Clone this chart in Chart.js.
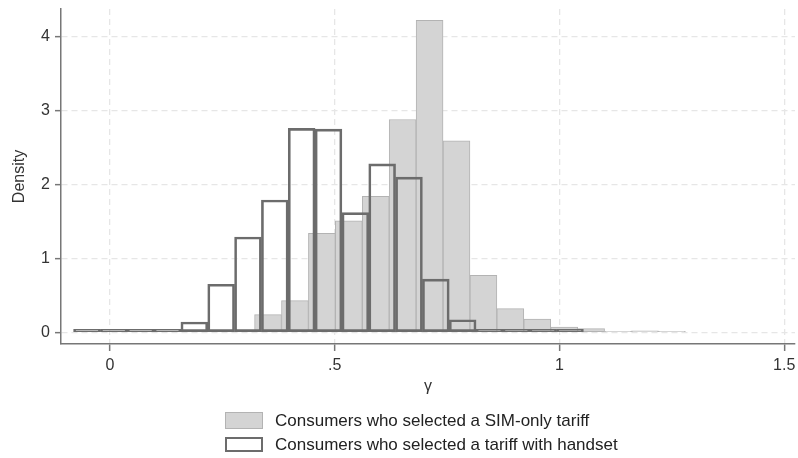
<!DOCTYPE html>
<html>
<head>
<meta charset="utf-8">
<script src="https://cdn.jsdelivr.net/npm/chart.js@4/dist/chart.umd.min.js"></script>
<style>
  html, body { margin: 0; padding: 0; background: #ffffff; }
  #wrap { width: 798px; height: 458px; }
</style>
</head>
<body>
<div id="wrap"><canvas id="chart" width="798" height="458"></canvas></div>
<script>
// Histogram bin centres (gamma) and densities
const simOnlyBins = [0.3516, 0.4115, 0.4714, 0.5313, 0.5912, 0.6511, 0.7110, 0.7709,
                     0.8308, 0.8907, 0.9506, 1.0105, 1.0704, 1.1303, 1.1902, 1.2501];
const simOnlyDensity = [0.24, 0.43, 1.34, 1.51, 1.84, 2.88, 4.22, 2.59,
                        0.77, 0.32, 0.18, 0.07, 0.05, 0.01, 0.02, 0.01];

const handsetBins = [-0.0512, 0.0085, 0.0682, 0.1279, 0.1876, 0.2473, 0.3070, 0.3667,
                     0.4264, 0.4861, 0.5458, 0.6055, 0.6652, 0.7249, 0.7846, 0.8443,
                     0.9040, 0.9637, 1.0234];
const handsetDensity = [0.01, 0.01, 0.005, 0.03, 0.14, 0.65, 1.29, 1.79,
                        2.76, 2.75, 1.62, 2.28, 2.10, 0.72, 0.17, 0.03,
                        0.005, 0.02, 0.02];

const xTickValues = [0, 0.5, 1, 1.5];
const xTickLabels = ["0", ".5", "1", "1.5"];
const yTickValues = [0, 1, 2, 3, 4];

const seriesLabels = [
  "Consumers who selected a SIM-only tariff",
  "Consumers who selected a tariff with handset"
];

const FONT = "'Liberation Sans', Arial, Helvetica, sans-serif";
const AXIS = '#777777';
const GRID = '#e6e6e6';
const TEXT = '#333333';
const SIM_FILL = '#d4d4d4';
const SIM_EDGE = '#b3b3b3';
const HS_EDGE = '#6c6c6c';

Chart.defaults.font.family = FONT;

const X_MIN = -0.109, X_MAX = 1.524;

// Legend stacked in two rows below the plot
const stackedLegend = {
  id: 'stackedLegend',
  afterDraw(chart) {
    const ctx = chart.ctx;
    const ds = chart.data.datasets;
    const left = 225, boxW = 38, textX = 275;
    const rows = [
      { y: 412, h: 17, ds: ds[0] },
      { y: 437, h: 15, ds: ds[1] }
    ];
    ctx.save();
    rows.forEach(r => {
      const lw = r.ds.borderWidth;
      ctx.fillStyle = r.ds.legendFill;
      ctx.fillRect(left, r.y, boxW, r.h);
      ctx.lineWidth = lw;
      ctx.strokeStyle = r.ds.borderColor;
      ctx.strokeRect(left + lw / 2, r.y + lw / 2, boxW - lw, r.h - lw);
      ctx.fillStyle = '#222222';
      ctx.font = '17px ' + FONT;
      ctx.textBaseline = 'middle';
      ctx.textAlign = 'left';
      ctx.fillText(r.ds.label, textX, r.y + r.h / 2 + 0.5);
    });
    ctx.restore();
  }
};

const xAxisBase = {
  type: 'linear',
  min: X_MIN,
  max: X_MAX,
  offset: false,
  afterBuildTicks: s => { s.ticks = xTickValues.map(v => ({ value: v })); }
};

new Chart(document.getElementById('chart'), {
  type: 'bar',
  data: {
    datasets: [
      {
        label: seriesLabels[0],
        data: simOnlyBins.map((x, i) => ({ x: x, y: simOnlyDensity[i] })),
        xAxisID: 'x',
        backgroundColor: SIM_FILL,
        legendFill: SIM_FILL,
        borderColor: SIM_EDGE,
        borderWidth: 1,
        borderSkipped: false,
        minBarLength: 1,
        barPercentage: 1,
        categoryPercentage: 1,
        grouped: false,
        order: 1
      },
      {
        label: seriesLabels[1],
        data: handsetBins.map((x, i) => ({ x: x, y: handsetDensity[i] })),
        xAxisID: 'x2',
        backgroundColor: 'rgba(0,0,0,0)',
        legendFill: '#ffffff',
        borderColor: HS_EDGE,
        borderWidth: 2,
        borderSkipped: false,
        minBarLength: 3,
        barPercentage: 1,
        categoryPercentage: 1,
        grouped: false,
        order: 0
      }
    ]
  },
  options: {
    responsive: false,
    animation: false,
    events: [],
    layout: { padding: { top: 9, right: 3, bottom: 62, left: 0 } },
    plugins: {
      legend: { display: false },
      tooltip: { enabled: false }
    },
    scales: {
      x: Object.assign({}, xAxisBase, {
        position: 'bottom',
        afterFit: s => { s.height = 52; s.paddingLeft = 0; s.paddingRight = 0; },
        grid: {
          offset: false,
          color: GRID, lineWidth: 1.3,
          tickLength: 7, tickColor: AXIS, tickWidth: 1.5, tickBorderDash: []
        },
        border: { color: AXIS, width: 1.5, dash: [6, 4] },
        ticks: {
          padding: 5, color: TEXT, maxRotation: 0, autoSkip: false,
          font: { size: 16 },
          callback: v => xTickLabels[xTickValues.indexOf(v)]
        },
        title: {
          display: true, text: 'γ', color: TEXT,
          font: { size: 16 }, padding: { top: 0, bottom: 0 }
        }
      }),
      x2: Object.assign({}, xAxisBase, { display: false, grid: { offset: false } }),
      y: {
        min: -0.158,
        max: 4.375,
        afterBuildTicks: s => { s.ticks = yTickValues.map(v => ({ value: v })); },
        afterFit: s => { s.width = 61; s.paddingTop = 0; s.paddingBottom = 0; },
        grid: {
          color: GRID, lineWidth: 1.3,
          tickLength: 6, tickColor: AXIS, tickWidth: 1.5, tickBorderDash: []
        },
        border: { color: AXIS, width: 1.5, dash: [6, 4] },
        ticks: {
          padding: 5, color: TEXT, font: { size: 16 },
          callback: v => String(v)
        },
        title: {
          display: true, text: 'Density', color: TEXT,
          font: { size: 16 }, padding: { top: 10, bottom: 0 }
        }
      }
    }
  },
  plugins: [stackedLegend]
});
</script>
</body>
</html>
